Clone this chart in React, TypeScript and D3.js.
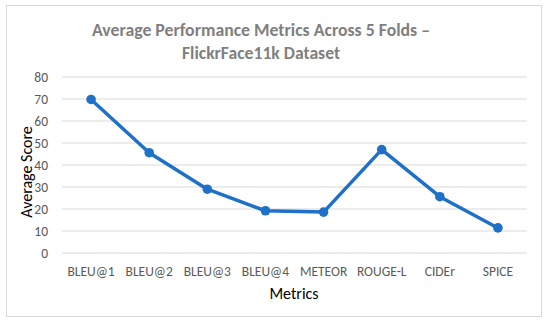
import React from "react";
import * as d3 from "d3";

// values
const metrics = ["BLEU@1", "BLEU@2", "BLEU@3", "BLEU@4", "METEOR", "ROUGE-L", "CIDEr", "SPICE"];
const scores = [69.8, 45.6, 29.0, 19.2, 18.6, 47.0, 25.6, 11.4];
const yTicks = [0, 10, 20, 30, 40, 50, 60, 70, 80];
const titleLines = ["Average Performance Metrics Across 5 Folds –", "FlickrFace11k Dataset"];

const W = 550;
const H = 324;
const plot = { left: 62, right: 527, top: 77, bottom: 253 };
const font = "Carlito, 'Open Sans', 'Liberation Sans', sans-serif";

export default function App() {
  const x = d3.scaleBand<string>().domain(metrics).range([plot.left, plot.right]);
  const y = d3.scaleLinear().domain([0, 80]).range([plot.bottom, plot.top]);
  const cx = (m: string) => (x(m) ?? 0) + x.bandwidth() / 2;

  const line = d3
    .line<number>()
    .x((_, i) => cx(metrics[i]))
    .y((d) => y(d));

  return (
    <svg
      width={W}
      height={H}
      style={{ position: "absolute", left: 0, top: 0 }}
      fontFamily={font}
    >
      <rect x={0} y={0} width={W} height={H} fill="#fff" />
      <rect x={6.5} y={5.5} width={535} height={311} fill="#fff" stroke="#d9d9d9" />

      {/* title */}
      <text x={261} y={36} textAnchor="middle" fontSize={17} fontWeight="bold" fill="#7f7f7f" textLength={338} lengthAdjust="spacingAndGlyphs">
        {titleLines[0]}
      </text>
      <text x={261} y={59} textAnchor="middle" fontSize={17} fontWeight="bold" fill="#7f7f7f" textLength={158} lengthAdjust="spacingAndGlyphs">
        {titleLines[1]}
      </text>

      {/* gridlines + y ticks */}
      {yTicks.map((t) => (
        <g key={t}>
          <line x1={plot.left} x2={plot.right} y1={y(t)} y2={y(t)} stroke="#d9d9d9" strokeWidth={1} />
          <text x={48} y={y(t)} dy="0.35em" textAnchor="end" fontSize={13.5} fill="#595959">
            {t}
          </text>
        </g>
      ))}

      {/* x tick labels */}
      {metrics.map((m) => (
        <text key={m} x={cx(m)} y={276} textAnchor="middle" fontSize={13.5} fill="#595959">
          {m}
        </text>
      ))}

      {/* axis titles */}
      <text x={294} y={299} textAnchor="middle" fontSize={16} fill="#000">
        Metrics
      </text>
      <text transform="translate(32,172) rotate(-90)" textAnchor="middle" fontSize={16} fill="#000">
        Average Score
      </text>

      {/* series */}
      <path d={line(scores) ?? ""} fill="none" stroke="#1f70c8" strokeWidth={3.5} strokeLinejoin="round" />
      {scores.map((s, i) => (
        <circle key={metrics[i]} cx={cx(metrics[i])} cy={y(s)} r={4.8} fill="#1f70c8" />
      ))}
    </svg>
  );
}
